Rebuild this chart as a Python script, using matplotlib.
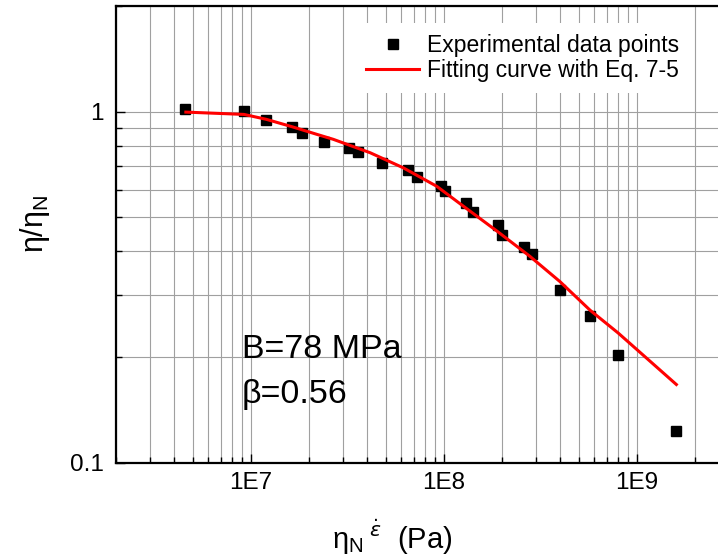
import matplotlib
matplotlib.use('Agg')
import matplotlib.pyplot as plt
from matplotlib.ticker import FuncFormatter, LogLocator, NullFormatter
import numpy as np

plt.rcParams['font.family'] = ['Liberation Sans', 'DejaVu Sans']

# experimental data points (eta_N * strain rate in Pa, eta/eta_N)
exp_x = [4.58e6, 9.2e6, 1.196e7, 1.63e7, 1.83e7, 2.39e7, 3.23e7, 3.6e7, 4.75e7,
         6.5e7, 7.25e7, 9.6e7, 1.01e8, 1.3e8, 1.42e8, 1.91e8, 2.0e8, 2.6e8,
         2.85e8, 3.98e8, 5.7e8, 8.0e8, 1.59e9]
exp_y = [1.015, 1.004, 0.946, 0.904, 0.869, 0.821, 0.789, 0.767, 0.715,
         0.684, 0.652, 0.613, 0.593, 0.550, 0.517, 0.477, 0.445, 0.412,
         0.394, 0.311, 0.262, 0.203, 0.123]

# fitting curve
fit_x = [4.6e6, 9.2e6, 1.2e7, 1.63e7, 2.19e7, 2.67e7, 4.14e7, 6.15e7, 9.17e7,
         1.26e8, 1.88e8, 2.79e8, 3.99e8, 5.71e8, 8.0e8, 1.6e9]
fit_y = [0.997, 0.982, 0.951, 0.906, 0.862, 0.834, 0.764, 0.692, 0.613,
         0.538, 0.457, 0.387, 0.328, 0.272, 0.234, 0.167]

fig = plt.figure(figsize=(7.18, 5.58), dpi=100)
ax = fig.add_axes([0.1616, 0.1708, 0.8538, 0.8185])

ax.plot(exp_x, exp_y, 's', color='black', markersize=6.5, zorder=3,
        label='Experimental data points')
ax.plot(fit_x, fit_y, '-', color='red', linewidth=2.2, zorder=4,
        label='Fitting curve with Eq. 7-5')

ax.set_xscale('log')
ax.set_yscale('log')
ax.set_xlim(2e6, 3e9)
ax.set_ylim(0.1, 2.0)

ax.xaxis.set_major_locator(LogLocator(base=10))
ax.xaxis.set_minor_locator(LogLocator(base=10, subs=np.arange(2, 10)))
ax.yaxis.set_minor_locator(LogLocator(base=10, subs=np.arange(2, 10)))
ax.xaxis.set_major_formatter(FuncFormatter(lambda v, p: '1E%d' % round(np.log10(v))))
ax.yaxis.set_major_formatter(FuncFormatter(lambda v, p: '%g' % v))
ax.xaxis.set_minor_formatter(NullFormatter())
ax.yaxis.set_minor_formatter(NullFormatter())

ax.grid(True, which='both', color='#a0a0a0', linewidth=0.8)
ax.set_axisbelow(True)

ax.tick_params(which='both', direction='in', labelsize=17.5, width=1.0)
ax.tick_params(which='major', length=6.5)
ax.tick_params(which='minor', length=4)
ax.tick_params(axis='x', pad=7)
ax.tick_params(axis='y', pad=9)
for s in ['left', 'bottom', 'top']:
    ax.spines[s].set_linewidth(1.6)

ax.set_xlabel('η$_\\mathregular{N}$$\\,{}^{\\dot{\\varepsilon}}$  (Pa)', fontsize=21)
ax.xaxis.set_label_coords(0.45, -0.12)
ax.set_ylabel('η/η$_\\mathregular{N}$', fontsize=22)
ax.yaxis.set_label_coords(-0.105, 0.523)

ax.text(0.205, 0.2286, 'B=78 MPa', transform=ax.transAxes, fontsize=24.5,
        va='baseline')
ax.text(0.205, 0.1307, 'β=0.56', transform=ax.transAxes, fontsize=24.5,
        va='baseline')

leg = ax.legend(loc='upper left', bbox_to_anchor=(0.494, 0.959),
                bbox_transform=fig.transFigure, fontsize=16.5, frameon=True,
                fancybox=False, framealpha=1, edgecolor='none',
                borderaxespad=0, borderpad=0.5, handlelength=2.3,
                handletextpad=0.35, labelspacing=0.07, markerscale=1.0)

fig.savefig('out.png', dpi=100)
